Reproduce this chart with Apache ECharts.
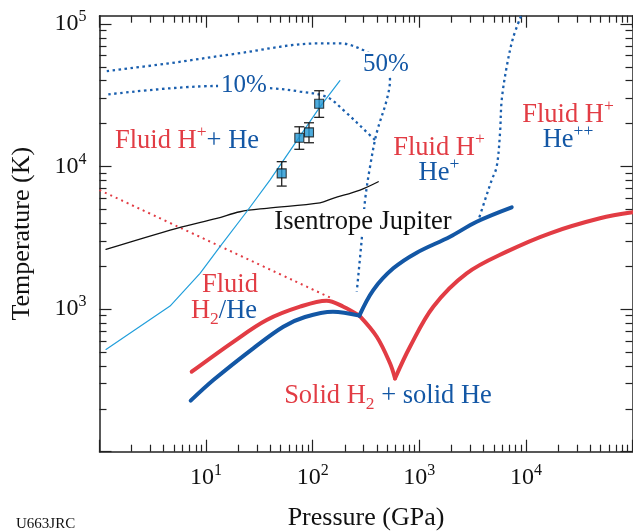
<!DOCTYPE html>
<html><head><meta charset="utf-8">
<script src="https://cdn.jsdelivr.net/npm/echarts@6/dist/echarts.min.js"></script>
<style>html,body{margin:0;padding:0;background:#fff}#c{width:633px;height:531px}</style>
</head><body><div id="c"></div>
<script>
// ---- data (pressure GPa, temperature K) ----
const xTickValues = [10, 100, 1000, 10000];
const yTickValues = [1000, 10000, 100000];
const redCurveLow = [[7.33,364],[18.0,590],[37.0,839],[76,1040],[135,1146],[194,1040],[274,900]];
const redCurveDrop = [[274,900],[399,640],[531,417],[592,327]];
const redCurveHigh = [[592,327],[818,545],[1352,1040],[2784,1782],[6607,2530],[16830,3405],[49550,4335],[100000,4775]];
const blueCurveLow = [[7.17,228],[11.7,318],[27.7,531],[53.0,753],[84.7,881],[155,959],[274,900]];
const blueCurveHigh = [[274,900],[370,1361],[570,1932],[946,2490],[1942,3221],[3453,4104],[7362,5176]];
const redDotted = [[1,6840],[151,1190]];
const isentrope = [[1.15,2625],[5.30,3690],[12.6,4335],[20.8,4820],[37.0,5096],[117,5570],[155,5985],[278,6840],[412,7820]];
const hugoniot = [[1.15,522],[4.59,1051],[8.77,1783],[13.5,2741],[24.0,4820],[39.7,8040],[117,26240],[180,40000]];
const ion50 = [[1.17,46760],[4.27,52700],[18.0,61500],[117,73100],[180,73100],[321,63800],[477,51550],[531,40450],[494,29240],[398,17180],[345,9970],[310,5820],[288,3055],[259,1325]];
const ion10 = [[1.21,32060],[12.6,36730],[42.7,35300],[76.0,33570],[135,30830],[194,24890],[357,16180],[384,15350]];
const ionHe = [[8995,113500],[7570,79600],[6607,50120],[5930,29240],[5716,17100],[5320,9970],[4777,8040],[4132,5820],[3573,4170]];
const shockP = [51.2, 74.9, 92.3, 115];
const shockT = [8960, 15920, 17380, 27540];
const shockTlow = [7295, 13210, 14690, 22130];
const shockThigh = [10820, 19010, 20280, 34030];

// ---- styling ----
const FONT = '"Liberation Serif","Times New Roman",serif';
const RED = '#e23c44', BLUE = '#1357a5', DOT = '#1a5fae', LBLUE = '#229fdb', AX = '#222';
const X_MIN = 1, X_MAX = 100000, Y_MIN = 100, Y_MAX = 114300;

function minorTicks(d0, d1, max) {
  const out = [];
  for (let d = d0; d <= d1; d++) for (let m = 2; m <= 9; m++) { const v = m * Math.pow(10, d); if (v <= max) out.push(v); }
  return out;
}
const xMajor = [1, 10, 100, 1000, 10000, 100000];
const xMinor = minorTicks(0, 4, X_MAX);
const yMajor = [100, 1000, 10000, 100000];
const yMinor = minorTicks(2, 4, Y_MAX);

const labelRich = {
  b: { fontSize: 24, fontFamily: FONT, color: '#111', lineHeight: 30 },
  s: { fontSize: 16, fontFamily: FONT, color: '#111', lineHeight: 16, verticalAlign: 'top' }
};
const fmt = v => '{b|10}{s|' + Math.round(Math.log10(v)) + '}';

function axis(kind, pos, ticks, len, main) {
  const isX = kind === 'x';
  return {
    type: 'log', logBase: 10, position: pos,
    min: isX ? X_MIN : Y_MIN, max: isX ? X_MAX : Y_MAX,
    axisLine: { show: !!main, onZero: false, lineStyle: { color: AX, width: 1.5 } },
    axisTick: { show: true, inside: true, length: len, customValues: ticks, lineStyle: { color: AX, width: 1.2 } },
    minorTick: { show: false },
    splitLine: { show: false },
    axisLabel: main === 'label' ? {
      show: true, customValues: isX ? xTickValues : yTickValues, formatter: fmt, rich: labelRich,
      margin: isX ? 11 : 13
    } : { show: false },
    name: main === 'label' ? (isX ? 'Pressure (GPa)' : 'Temperature (K)') : '',
    nameLocation: 'middle', nameGap: isX ? 53 : 64, nameMoveOverlap: false,
    nameTextStyle: { fontSize: 26, fontFamily: FONT, color: '#111' }
  };
}

function lineS(data, color, width, extra) {
  return Object.assign({
    type: 'line', data: data, symbol: 'none', showSymbol: false, smooth: 0.35,
    xAxisIndex: 0, yAxisIndex: 0, clip: true, silent: true,
    lineStyle: { color: color, width: width, cap: 'round', join: 'round' }, z: 4
  }, extra || {});
}
function dotS(data, color, width, dash) {
  return lineS(data, color, width, { lineStyle: { color: color, width: width, type: dash, cap: 'butt' }, z: 1 });
}

const FS = 26.5, SS = 17.5;
const rich = {
  r: { fill: RED, fontSize: FS, fontFamily: FONT, lineHeight: 35 },
  b: { fill: BLUE, fontSize: FS, fontFamily: FONT, lineHeight: 35 },
  k: { fill: '#111', fontSize: FS, fontFamily: FONT, lineHeight: 26 },
  rs: { fill: RED, fontSize: SS, fontFamily: FONT, lineHeight: SS, verticalAlign: 'top' },
  bs: { fill: BLUE, fontSize: SS, fontFamily: FONT, lineHeight: SS, verticalAlign: 'top' },
  rsub: { fill: RED, fontSize: SS, fontFamily: FONT, lineHeight: SS, verticalAlign: 'bottom' }
};
function txt(x, y, text, align, extra, z) {
  return { type: 'text', x: x, y: y, z: z == null ? 100 : z, style: Object.assign({ text: text, rich: rich, align: align || 'center', verticalAlign: 'middle', fontFamily: FONT, fontSize: 25 }, extra || {}) };
}

const chart = echarts.init(document.getElementById('c'), null, { renderer: 'canvas' });
chart.setOption({
  animation: false,
  backgroundColor: '#fff',
  grid: { left: 99.5, right: 0.5, top: 15.7, bottom: 79.3, containLabel: false, outerBoundsMode: 'none' },
  xAxis: [
    axis('x', 'bottom', xMajor, 12, 'label'),
    axis('x', 'bottom', xMinor, 7, false),
    axis('x', 'top', xMajor, 12, true),
    axis('x', 'top', xMinor, 7, false)
  ],
  yAxis: [
    axis('y', 'left', yMajor, 12, 'label'),
    axis('y', 'left', yMinor, 7, false),
    axis('y', 'right', yMajor, 12, true),
    axis('y', 'right', yMinor, 7, false)
  ],
  series: [
    dotS(ion50, DOT, 2.3, [2.5, 3.5]),
    dotS(ion10, DOT, 2.3, [2.5, 3.5]),
    dotS(ionHe, DOT, 2.3, [2.5, 3.5]),
    dotS(redDotted, RED, 2, [2, 4]),
    lineS(isentrope, '#111', 1.3),
    lineS(hugoniot, LBLUE, 1.2, { smooth: false }),
    lineS(redCurveLow, RED, 4),
    lineS(redCurveDrop, RED, 4),
    lineS(redCurveHigh, RED, 4),
    lineS(blueCurveLow, BLUE, 4),
    lineS(blueCurveHigh, BLUE, 4),
    {
      type: 'custom', xAxisIndex: 0, yAxisIndex: 0, z: 5, silent: true,
      data: shockP.map((p, i) => [p, shockTlow[i], shockThigh[i]]),
      encode: { x: 0, y: [1, 2] },
      renderItem: function (params, api) {
        const lo = api.coord([api.value(0), api.value(1)]);
        const hi = api.coord([api.value(0), api.value(2)]);
        const w = 5, st = { stroke: '#222', lineWidth: 1.3 };
        return { type: 'group', children: [
          { type: 'line', shape: { x1: lo[0], y1: lo[1], x2: hi[0], y2: hi[1] }, style: st },
          { type: 'line', shape: { x1: lo[0] - w, y1: lo[1], x2: lo[0] + w, y2: lo[1] }, style: st },
          { type: 'line', shape: { x1: hi[0] - w, y1: hi[1], x2: hi[0] + w, y2: hi[1] }, style: st }
        ] };
      }
    },
    {
      type: 'scatter', xAxisIndex: 0, yAxisIndex: 0, z: 6, silent: true,
      data: shockP.map((p, i) => [p, shockT[i]]),
      symbol: 'rect', symbolSize: 9,
      itemStyle: { color: '#2196d3', borderColor: '#111', borderWidth: 1.1 }
    }
  ],
  graphic: [
    txt(244, 85, '10%', 'center', { fill: BLUE, backgroundColor: '#fff', padding: [0, 3] }, 2),
    txt(386, 64, '50%', 'center', { fill: BLUE, backgroundColor: '#fff', padding: [0, 2] }, 2),
    txt(115, 141, '{r|Fluid H}{rs|+}{b|+ He}', 'left'),
    txt(439, 148, '{r|Fluid H}{rs|+}'),
    txt(439, 173, '{b|He}{bs|+}'),
    txt(568, 115, '{r|Fluid H}{rs|+}'),
    txt(568, 140, '{b|He}{bs|++}'),
    txt(363, 222, '{k|Isentrope Jupiter}', 'center', { backgroundColor: '#fff', padding: [0, 2] }, 2),
    txt(230, 285, '{r|Fluid}'),
    txt(224, 311, '{r|H}{rsub|2}{b|/He}'),
    txt(388, 396, '{r|Solid H}{rsub|2}{b| + solid He}'),
    { type: 'text', x: 16, y: 524, z: 100, style: { text: 'U663JRC', fontFamily: FONT, fontSize: 15, fill: '#111', align: 'left', verticalAlign: 'middle' } }
  ]
});
</script>
</body></html>
